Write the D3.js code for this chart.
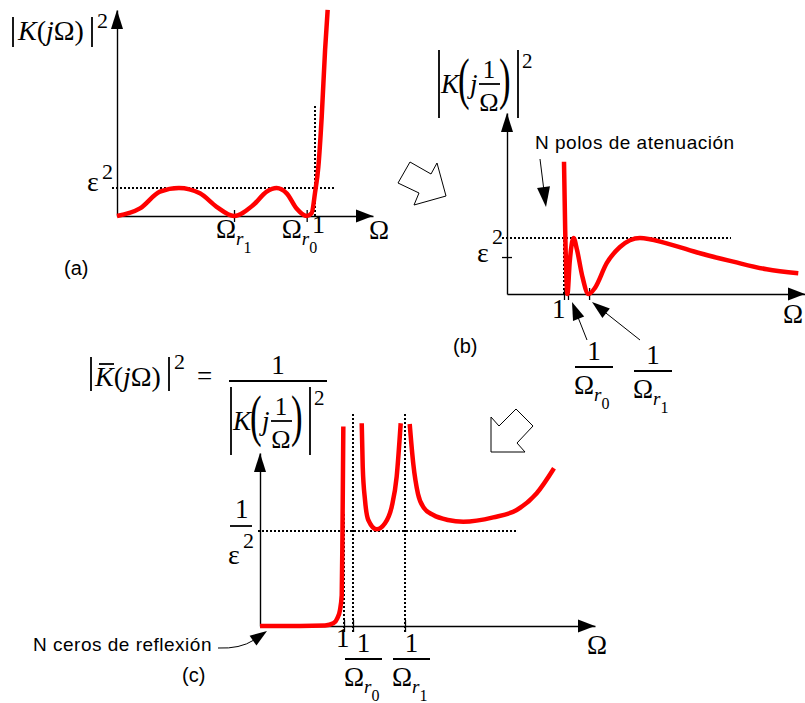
<!DOCTYPE html>
<html>
<head>
<meta charset="utf-8">
<script src="https://cdn.jsdelivr.net/npm/d3@7"></script>
<style>
  body { margin: 0; background: #fff; }
  svg { display: block; }
  .m { font-family: "Liberation Serif", "Times New Roman", serif; font-size: 26px; fill: #000; }
  .s { font-family: "Liberation Sans", Arial, sans-serif; font-size: 19px; fill: #000; }
</style>
</head>
<body>
<svg id="fig" width="805" height="703"></svg>
<script>
// ---- (a) |K(jΩ)|² of the prototype, vertical unit = ε² ----
const omegaA = [0, 0.116, 0.217, 0.313, 0.419, 0.503, 0.591, 0.688, 0.756, 0.806, 0.857, 0.907, 0.958, 0.983, 1.0, 1.017, 1.034, 1.051, 1.064];
const magA   = [0, 0.27, 0.87, 1.0, 0.81, 0.33, 0, 0.39, 0.87, 1.0, 0.81, 0.27, 0, 0.1, 0.82, 1.76, 3.55, 5.93, 7.36];
const ticksA = [0.591, 0.958];            // Ω_r1, Ω_r0

// ---- (b) |K(j/Ω)|², vertical unit = ε² ----
const omegaB = [1.0, 1.021, 1.06, 1.1, 1.167, 1.228, 1.316, 1.43, 1.544, 1.749, 1.982, 2.333, 2.80, 3.386, 3.97, 4.556, 5.11];
const magB   = [2.36, 1.14, 0, 0.57, 1.0, 0.79, 0.34, 0, 0.11, 0.55, 0.84, 1.0, 0.905, 0.727, 0.577, 0.441, 0.37];
const ticksB = [1, 1.07, 1.44];           // 1, 1/Ω_r0, 1/Ω_r1
const epsTickB = 0.66;

// ---- (c) |K̄(jΩ)|² = 1/|K(j/Ω)|², vertical unit = 1/ε² (three branches between the poles) ----
const omegaC1 = [0, 0.476, 0.774, 0.873, 0.92, 0.952, 0.973, 0.982, 0.992];
const magC1   = [0, 0, 0.005, 0.028, 0.081, 0.168, 0.326, 1.0, 2.10];
const omegaC2 = [1.211, 1.223, 1.25, 1.289, 1.389, 1.488, 1.568, 1.627, 1.675];
const magC2   = [2.134, 1.677, 1.326, 1.116, 1.018, 1.081, 1.256, 1.572, 2.134];
const omegaC3 = [1.782, 1.825, 1.881, 1.952, 2.063, 2.238, 2.42, 2.777, 3.056, 3.294, 3.5];
const magC3   = [2.126, 1.705, 1.389, 1.242, 1.168, 1.116, 1.098, 1.144, 1.221, 1.397, 1.66];
const ticksC = [1, 1.107, 1.726];         // 1, 1/Ω_r0, 1/Ω_r1

const svg = d3.select("#fig");
const RED = "#ff0000";

// scales
const xA = d3.scaleLinear().domain([0, 1.293]).range([117, 373]);
const yA = d3.scaleLinear().domain([0, 7.357]).range([216, 10]);
const xB = d3.scaleLinear().domain([0, 5.228]).range([507, 805]);
const yB = d3.scaleLinear().domain([0, 3.232]).range([294, 113]);
const xC = d3.scaleLinear().domain([0, 3.988]).range([260, 595]);
const yC = d3.scaleLinear().domain([0, 1.821]).range([626, 453]);

// helpers
function txt(g, x, y, s, o = {}) {
  const t = g.append("text").attr("x", x).attr("y", y).attr("class", o.sans ? "s" : "m").text(s);
  if (o.size) t.style("font-size", o.size + "px");
  if (o.it) t.style("font-style", "italic");
  if (o.anchor) t.attr("text-anchor", o.anchor);
  if (o.tf) t.attr("transform", o.tf);
  if (o.ls) t.style("letter-spacing", o.ls + "px");
  return t;
}
function seg(g, x1, y1, x2, y2, w = 1.3, dash = null) {
  const l = g.append("line").attr("x1", x1).attr("y1", y1).attr("x2", x2).attr("y2", y2)
    .attr("stroke", "#000").attr("stroke-width", w);
  if (dash) l.attr("stroke-dasharray", dash);
  return l;
}
// guide lines: snapped to whole pixels so the 2px dots stay crisp
function dotted(x1, y1, x2, y2) {
  const r = Math.round;
  return seg(svg, r(x1), r(y1), r(x2), r(y2), 2, "2,2");
}
function head(tx, ty, fx, fy, len, hw) {
  const dx = tx - fx, dy = ty - fy, L = Math.hypot(dx, dy);
  const ux = dx / L, uy = dy / L;
  const bx = tx - ux * len, by = ty - uy * len;
  svg.append("polygon")
    .attr("points", [[tx, ty], [bx - uy * hw, by + ux * hw], [bx + uy * hw, by - ux * hw]].map(p => p.join(",")).join(" "))
    .attr("fill", "#000");
}
function arrow(x1, y1, x2, y2, len = 18, hw = 6) {
  const dx = x2 - x1, dy = y2 - y1, L = Math.hypot(dx, dy);
  seg(svg, x1, y1, x2 - dx / L * (len - 2), y2 - dy / L * (len - 2), 1);
  head(x2, y2, x1, y1, len, hw);
}
function curve(xs, ys, x, y) {
  const pts = xs.map((v, i) => [v, ys[i]]);
  svg.append("path")
    .attr("d", d3.line().x(d => x(d[0])).y(d => y(d[1])).curve(d3.curveMonotoneX)(pts))
    .attr("fill", "none").attr("stroke", RED).attr("stroke-width", 4.5)
    .attr("stroke-linejoin", "round");
}
function axes(x, y, ticks, yTicks) {
  const gx = svg.append("g").attr("transform", `translate(0,${y(0)})`)
    .call(d3.axisBottom(x).tickValues(ticks).tickSize(6).tickSizeOuter(0).tickFormat(""));
  gx.selectAll(".tick line").attr("y1", -6).attr("y2", 6);
  const gy = svg.append("g").attr("transform", `translate(${x(0)},0)`)
    .call(d3.axisLeft(y).tickValues(yTicks).tickSize(5).tickSizeOuter(0).tickFormat(""));
  gy.selectAll(".tick line").attr("x1", -5).attr("x2", 5);
  svg.selectAll(".domain").attr("stroke", "#000").attr("stroke-width", 1.4);
  svg.selectAll(".tick line").attr("stroke", "#000").attr("stroke-width", 1.3);
  const [x0, x1] = x.range(), [y0, y1] = y.range();
  head(x1, y0, x0, y0, 17, 6.5);
  head(x0, y1, x0, y0, 19, 6);
}
// Ω with subscript r and index
function omegaR(g, x, y, idx, size = 27) {
  const t = g.append("text").attr("x", x).attr("y", y).attr("class", "m").style("font-size", size + "px");
  t.append("tspan").text("Ω");
  t.append("tspan").attr("dy", 7).style("font-style", "italic").style("font-size", "19px").text("r");
  t.append("tspan").attr("dy", 8).style("font-size", "16px").text(idx);
  return t;
}
// fraction 1 / Ω_r{idx}
function fracOmega(xL, yBar, w, idx) {
  txt(svg, xL + w / 2, yBar - 7, "1", { anchor: "middle", size: 27 });
  seg(svg, xL, yBar, xL + w, yBar, 1.8);
  omegaR(svg, xL - 1, yBar + 27, idx);
}
// |K(j 1/Ω)|² drawn from the top of its left bar
function invK(x0, y0) {
  const g = svg.append("g").attr("transform", `translate(${x0},${y0})`);
  seg(g, 0, 0, 0, 68, 1.8); seg(g, 79, 0, 79, 68, 1.8);
  txt(g, 2, 43, "K", { it: true, size: 27 });
  txt(g, 0, 0, "(", { size: 58, tf: "translate(19,48) scale(0.6,1)" });
  txt(g, 31, 43, "j", { it: true, size: 27 });
  txt(g, 50, 28, "1", { anchor: "middle", size: 25 });
  seg(g, 40, 34, 61, 34, 1.8);
  txt(g, 50, 61, "Ω", { anchor: "middle", size: 26 });
  txt(g, 0, 0, ")", { size: 58, tf: "translate(60,48) scale(0.6,1)" });
  txt(g, 83, 18, "2", { size: 21 });
}

// ================= panel (a) =================
dotted(xA(-0.025), yA(1), xA(1.096), yA(1));
dotted(xA(1), yA(0), xA(1), yA(3.96));
axes(xA, yA, ticksA, []);
curve(omegaA, magA, xA, yA);
// title |K(jΩ)|²
seg(svg, 13, 17, 13, 47, 1.8);
{
  const t = svg.append("text").attr("x", 18).attr("y", 40).attr("class", "m").style("font-size", "28px");
  t.append("tspan").style("font-style", "italic").text("K");
  t.append("tspan").text("(");
  t.append("tspan").style("font-style", "italic").text("j");
  t.append("tspan").text("Ω)");
}
seg(svg, 92, 17, 92, 47, 1.8);
txt(svg, 97, 28, "2", { size: 22 });
txt(svg, 87, 191, "ε", { size: 28 });
txt(svg, 102, 179, "2", { size: 22 });
omegaR(svg, xA(ticksA[0]) - 18, 238, "1");
omegaR(svg, xA(ticksA[1]) - 25, 238, "0");
txt(svg, xA(1) - 3, 233, "1", { size: 26 });
txt(svg, 369, 239, "Ω", { size: 27 });
txt(svg, 64, 275, "(a)", { sans: true, size: 20 });

// hollow arrow (a) → (b)
svg.append("polygon")
  .attr("points", "410,162 431,174 437,163 446,196 414,205 419,193 398,183")
  .attr("fill", "#fff").attr("stroke", "#000").attr("stroke-width", 1);

// ================= panel (b) =================
dotted(xB(-0.09), yB(1), xB(3.93), yB(1));
dotted(xB(1), yB(0), xB(1), yB(1));
axes(xB, yB, ticksB, [epsTickB]);
curve(omegaB, magB, xB, yB);
invK(439, 50);
txt(svg, 477, 262, "ε", { size: 28 });
txt(svg, 492, 244, "2", { size: 22 });
txt(svg, 552, 318, "1", { size: 27 });
txt(svg, 783, 323, "Ω", { size: 27 });
txt(svg, 535, 149, "N polos de atenuación", { sans: true, ls: 0.5 });
arrow(540, 159, 546, 207, 20, 6.5);
arrow(587, 340, 572, 302);
arrow(640, 340, 592, 302);
fracOmega(575, 367, 38, "0");
fracOmega(634, 371, 38, "1");
txt(svg, 453, 353, "(b)", { sans: true, size: 20 });

// hollow arrow (b) → (c)
svg.append("polygon")
  .attr("points", "491,417 499,426 516,409 533,426 517,443 525,452 491,452")
  .attr("fill", "#fff").attr("stroke", "#000").attr("stroke-width", 1);

// ================= panel (c) =================
dotted(xC(-0.024), yC(1), xC(3.07), yC(1));
dotted(xC(1), 632, xC(1), yC(1.19));
dotted(xC(ticksC[1]), 632, xC(ticksC[1]), yC(2.24));
dotted(xC(ticksC[2]), 632, xC(ticksC[2]), yC(2.24));
axes(xC, yC, ticksC, []);
curve(omegaC1, magC1, xC, yC);
curve(omegaC2, magC2, xC, yC);
curve(omegaC3, magC3, xC, yC);

// |K̄(jΩ)|² = 1 / |K(j 1/Ω)|²
seg(svg, 91, 357, 91, 391, 1.8);
{
  const t = svg.append("text").attr("x", 95).attr("y", 386).attr("class", "m").style("font-size", "28px");
  t.append("tspan").style("font-style", "italic").text("K");
  t.append("tspan").text("(");
  t.append("tspan").style("font-style", "italic").text("j");
  t.append("tspan").text("Ω)");
}
seg(svg, 99, 364, 114, 364, 1.8);
seg(svg, 169, 357, 169, 391, 1.8);
txt(svg, 174, 369, "2", { size: 22 });
txt(svg, 197, 385, "=", { size: 27 });
txt(svg, 278, 374, "1", { anchor: "middle", size: 27 });
seg(svg, 229, 381, 327, 381, 1.8);
invK(231, 387);

txt(svg, 235, 518, "1", { size: 27 });
seg(svg, 230, 526, 252, 526, 1.8);
txt(svg, 228, 564, "ε", { size: 28 });
txt(svg, 243, 548, "2", { size: 22 });

txt(svg, xC(1) - 8, 647, "1", { size: 27 });
fracOmega(345, 659, 37, "0");
fracOmega(393, 659, 37, "1");
txt(svg, 587, 654, "Ω", { size: 27 });

txt(svg, 33, 651, "N ceros de reflexión", { sans: true, ls: 0.5 });
svg.append("path").attr("d", "M218,648 Q240,649 254,640")
  .attr("fill", "none").attr("stroke", "#000").attr("stroke-width", 1);
head(267, 631, 254, 640, 17, 6);
txt(svg, 182, 682, "(c)", { sans: true, size: 20 });
</script>
</body>
</html>
